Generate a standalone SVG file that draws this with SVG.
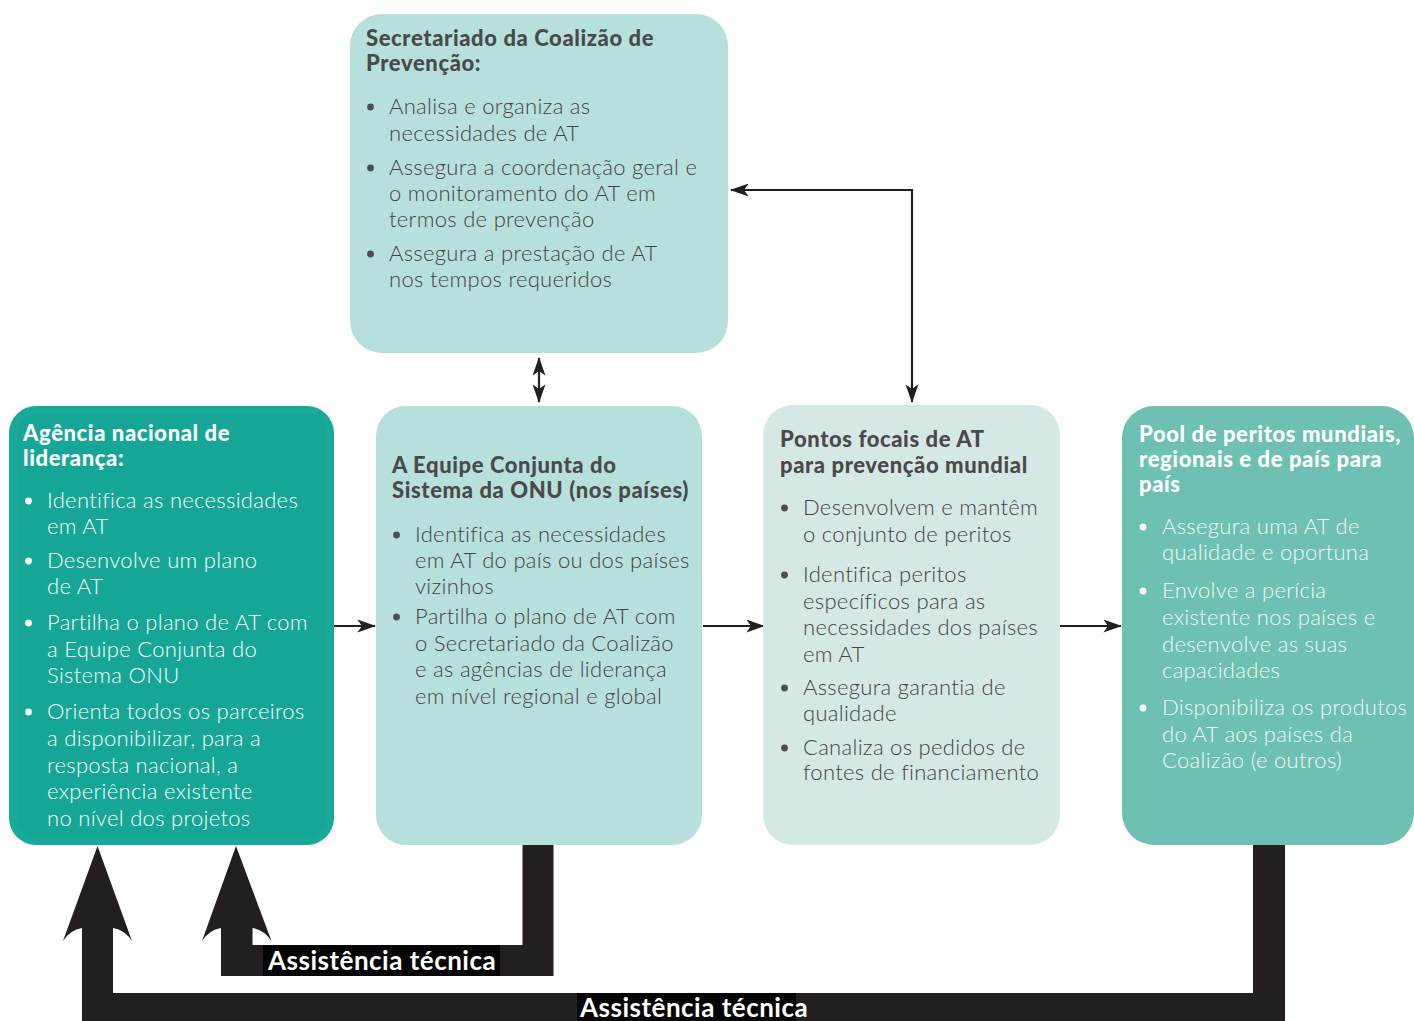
<svg xmlns="http://www.w3.org/2000/svg" width="1414" height="1021" viewBox="0 0 1414 1021">
<defs>
<style>
.box-light{fill:#b7e0dc}
.box-pale{fill:#d4e9e6}
.box-dark{fill:#18a999}
.box-mid{fill:#6dc0b2}
.t{font-family:Lato,"Noto Sans","DejaVu Sans",sans-serif;font-size:22px;font-weight:300;letter-spacing:0.3px;fill:#424244}
.h{font-family:Lato,"Noto Sans","DejaVu Sans",sans-serif;font-size:22px;font-weight:900;letter-spacing:0.6px;fill:#4a4a4c}
.tw{fill:#ffffff}
.tw2{fill:#f3faf8}
.bg{fill:#4d4d4f}
.bw{fill:#ffffff}
.conn{stroke:#231f20;stroke-width:2.2;fill:none}
.thick{fill:#231f20}
.lbl{fill:#050505}
.lt{font-family:Lato,"Noto Sans","DejaVu Sans",sans-serif;font-size:26px;font-weight:700;letter-spacing:0.5px;fill:#ffffff}
</style>
<marker id="ah" viewBox="0 0 20 14" refX="19" refY="7" markerWidth="19" markerHeight="13" markerUnits="userSpaceOnUse" orient="auto-start-reverse">
<path d="M0,0 L20,7 L0,14 L5,7 Z" fill="#231f20"/>
</marker>
</defs>

<g id="connectors">
<line class="conn" x1="539" y1="358" x2="539" y2="402" marker-start="url(#ah)" marker-end="url(#ah)"/>
<path class="conn" d="M731,190 H912 V402" marker-start="url(#ah)" marker-end="url(#ah)"/>
<line class="conn" x1="334" y1="626" x2="375" y2="626" marker-end="url(#ah)"/>
<line class="conn" x1="703" y1="626" x2="764" y2="626" marker-end="url(#ah)"/>
<line class="conn" x1="1059" y1="626" x2="1121" y2="626" marker-end="url(#ah)"/>
<path class="thick" d="M82,1030 V928 Q70,930 63,941 L97.5,846 L132,941 Q125,930 113,928 V993 H1253 V845 H1285 V1030 Z"/>
<path class="thick" d="M221,976 V928 Q209,930 202,941 L236,846 L271.5,941 Q264,930 252.5,928 V945 H522.5 V845 H553.5 V976 Z"/>
<rect class="lbl" x="263" y="945" width="237" height="31"/>
<text class="lt" x="268" y="970">Assistência técnica</text>
<rect class="lbl" x="577" y="993" width="219" height="30"/>
<text class="lt" x="580" y="1017">Assistência técnica</text>
</g>

<g id="node-secretariado">
<rect class="box-light" x="350" y="14" width="378" height="339" rx="32"/>
<text class="h" x="366" y="46">Secretariado da Coalizão de</text>
<text class="h" x="366" y="71">Prevenção:</text>
<circle class="bg" cx="370.5" cy="107" r="3.4"/>
<text class="t" x="389" y="114">Analisa e organiza as</text>
<text class="t" x="389" y="141">necessidades de AT</text>
<circle class="bg" cx="370.5" cy="168" r="3.4"/>
<text class="t" x="389" y="175">Assegura a coordenação geral e</text>
<text class="t" x="389" y="201">o monitoramento do AT em</text>
<text class="t" x="389" y="227">termos de prevenção</text>
<circle class="bg" cx="370.5" cy="254" r="3.4"/>
<text class="t" x="389" y="261">Assegura a prestação de AT</text>
<text class="t" x="389" y="287">nos tempos requeridos</text>
</g>

<g id="node-agencia">
<rect class="box-dark" x="9" y="406" width="325" height="439" rx="27"/>
<rect x="17" y="414" width="309" height="423" rx="20" fill="#15a696"/>
<text class="h tw" x="23" y="441">Agência nacional de</text>
<text class="h tw" x="23" y="466">liderança:</text>
<circle class="bw" cx="28.5" cy="501" r="3.4"/>
<text class="t tw" x="47" y="508">Identifica as necessidades</text>
<text class="t tw" x="47" y="534">em AT</text>
<circle class="bw" cx="28.5" cy="561" r="3.4"/>
<text class="t tw" x="47" y="568">Desenvolve um plano</text>
<text class="t tw" x="47" y="594">de AT</text>
<circle class="bw" cx="28.5" cy="623" r="3.4"/>
<text class="t tw" x="47" y="630">Partilha o plano de AT com</text>
<text class="t tw" x="47" y="657">a Equipe Conjunta do</text>
<text class="t tw" x="47" y="683">Sistema ONU</text>
<circle class="bw" cx="28.5" cy="712" r="3.4"/>
<text class="t tw" x="47" y="719">Orienta todos os parceiros</text>
<text class="t tw" x="47" y="746">a disponibilizar, para a</text>
<text class="t tw" x="47" y="773">resposta nacional, a</text>
<text class="t tw" x="47" y="799">experiência existente</text>
<text class="t tw" x="47" y="826">no nível dos projetos</text>
</g>

<g id="node-equipe">
<rect class="box-light" x="376" y="406" width="326" height="439" rx="30"/>
<text class="h" x="392" y="473">A Equipe Conjunta do</text>
<text class="h" x="392" y="498">Sistema da ONU (nos países)</text>
<circle class="bg" cx="396.5" cy="535" r="3.4"/>
<text class="t" x="415" y="542">Identifica as necessidades</text>
<text class="t" x="415" y="568">em AT do país ou dos países</text>
<text class="t" x="415" y="594">vizinhos</text>
<circle class="bg" cx="396.5" cy="617" r="3.4"/>
<text class="t" x="415" y="624">Partilha o plano de AT com</text>
<text class="t" x="415" y="651">o Secretariado da Coalizão</text>
<text class="t" x="415" y="677">e as agências de liderança</text>
<text class="t" x="415" y="704">em nível regional e global</text>
</g>

<g id="node-pontos">
<rect class="box-pale" x="763" y="405" width="297" height="440" rx="30"/>
<text class="h" x="780" y="447">Pontos focais de AT</text>
<text class="h" x="780" y="473">para prevenção mundial</text>
<circle class="bg" cx="784.5" cy="508" r="3.4"/>
<text class="t" x="803" y="515">Desenvolvem e mantêm</text>
<text class="t" x="803" y="542">o conjunto de peritos</text>
<circle class="bg" cx="784.5" cy="575" r="3.4"/>
<text class="t" x="803" y="582">Identifica peritos</text>
<text class="t" x="803" y="609">específicos para as</text>
<text class="t" x="803" y="635">necessidades dos países</text>
<text class="t" x="803" y="662">em AT</text>
<circle class="bg" cx="784.5" cy="688" r="3.4"/>
<text class="t" x="803" y="695">Assegura garantia de</text>
<text class="t" x="803" y="721">qualidade</text>
<circle class="bg" cx="784.5" cy="748" r="3.4"/>
<text class="t" x="803" y="755">Canaliza os pedidos de</text>
<text class="t" x="803" y="780">fontes de financiamento</text>
</g>

<g id="node-pool">
<rect class="box-mid" x="1122" y="406" width="292" height="439" rx="32"/>
<text class="h tw" x="1139" y="442">Pool de peritos mundiais,</text>
<text class="h tw" x="1139" y="467">regionais e de país para</text>
<text class="h tw" x="1139" y="492">país</text>
<circle class="bw" cx="1143" cy="527" r="3.4"/>
<text class="t tw2" x="1162" y="534">Assegura uma AT de</text>
<text class="t tw2" x="1162" y="560">qualidade e oportuna</text>
<circle class="bw" cx="1143" cy="591" r="3.4"/>
<text class="t tw2" x="1162" y="598">Envolve a perícia</text>
<text class="t tw2" x="1162" y="625">existente nos países e</text>
<text class="t tw2" x="1162" y="652">desenvolve as suas</text>
<text class="t tw2" x="1162" y="678">capacidades</text>
<circle class="bw" cx="1143" cy="708" r="3.4"/>
<text class="t tw2" x="1162" y="715">Disponibiliza os produtos</text>
<text class="t tw2" x="1162" y="742">do AT aos países da</text>
<text class="t tw2" x="1162" y="768">Coalizão (e outros)</text>
</g>
</svg>
